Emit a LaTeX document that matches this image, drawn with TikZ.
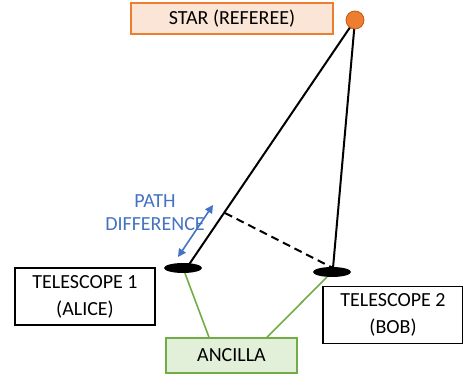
\documentclass[tikz,border=0pt]{standalone}
\usepackage{fontspec}
\setmainfont{Carlito}
\usepackage{tikz}
\usetikzlibrary{positioning, arrows.meta, calc, shapes.geometric}

\definecolor{starfill}{HTML}{FBE5D6}
\definecolor{stardraw}{HTML}{ED7D31}
\definecolor{stardark}{HTML}{C55A11}
\definecolor{ancfill}{HTML}{E2F0D9}
\definecolor{ancdraw}{HTML}{70AD47}
\definecolor{pathblue}{HTML}{4472C4}

\begin{document}
\begin{tikzpicture}[
    x=1pt, y=-1pt,
    boxbase/.style={
        rectangle,
        draw,
        line width=1.5pt,
        align=center,
        font=\fontsize{20}{27}\selectfont
    },
    referee/.style={
        boxbase,
        fill=starfill,
        draw=stardraw
    },
    telebox/.style={
        boxbase,
        fill=white,
        draw=black,
        minimum width=140pt,
        minimum height=57pt
    },
    ancilla/.style={
        boxbase,
        fill=ancfill,
        draw=ancdraw,
        minimum width=131pt,
        minimum height=35pt
    },
    dish/.style={
        ellipse,
        fill=black,
        minimum width=38pt,
        minimum height=10pt,
        inner sep=0pt
    },
    ray/.style={
        line width=2pt
    },
    link/.style={
        draw=ancdraw,
        line width=1.6pt
    },
    arrow/.style={
        {Triangle[width=8pt,length=8pt]}-{Triangle[width=8pt,length=8pt]},
        draw=pathblue,
        fill=pathblue,
        line width=1.6pt
    }
]
\useasboundingbox (0,0) rectangle (463,380);

% ===== star =====
\node[referee, minimum width=202pt, minimum height=31pt] (referee) at (232,18.5) {STAR (REFEREE)};
\coordinate (src) at (355,20);

% ===== telescopes =====
\node[dish] (scope1) at (183,268) {};
\node[dish] (scope2) at (332,272) {};
\coordinate (hit1) at (188,266);
\coordinate (hit2) at (333,268);
\coordinate (foot) at (225,213);

% ===== rays =====
\draw[ray] (src) -- (hit1);
\draw[ray] (src) -- (hit2);
\draw[ray, dash pattern=on 8pt off 5pt] (foot) -- (hit2);
\node[circle, fill=stardraw, draw=stardark, line width=0.8pt, minimum size=18pt, inner sep=0pt] (star) at (src) {};

% ===== path difference =====
\coordinate (pd1) at (178,257);
\coordinate (pd2) at (213,205);
\draw[arrow] (pd1) -- (pd2);
\node[align=center, text=pathblue, font=\fontsize{20}{23}\selectfont] (pathlbl) at (155,213) {PATH\\DIFFERENCE};

% ===== labels =====
\node[telebox] (tele1) at (85,296.5) {TELESCOPE 1\\(ALICE)};
\node[telebox] (tele2) at (393,315) {TELESCOPE 2\\(BOB)};
\node[ancilla] (anc) at (231.5,355.5) {ANCILLA};

% ===== ancilla links =====
\draw[link] (scope1) -- (anc.north -| 209,0);
\draw[link] (scope2) -- (anc.north -| 267,0);

\end{tikzpicture}
\end{document}
